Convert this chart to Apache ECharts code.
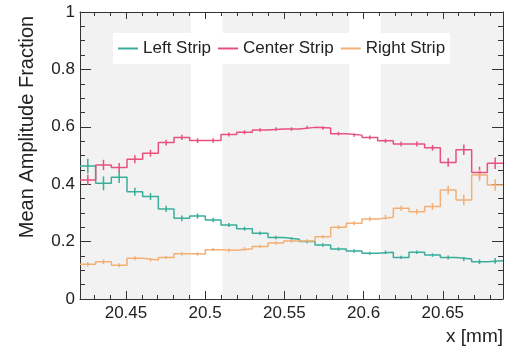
<!DOCTYPE html>
<html>
<head>
<meta charset="utf-8">
<script src="https://cdn.jsdelivr.net/npm/echarts@6/dist/echarts.min.js"></script>
<style>
  html, body { margin: 0; padding: 0; background: #fff; }
  #chart { width: 507px; height: 348px; }
</style>
</head>
<body>
<div id="chart"></div>
<script>
// histogram binning
const xLow = 20.421;
const xHigh = 20.688;
const nBins = 27;

// tick values
const xMajorTicks = [20.45, 20.5, 20.55, 20.6, 20.65];
const xMinorTicks = [20.43, 20.44, 20.46, 20.47, 20.48, 20.49, 20.51, 20.52, 20.53, 20.54,
    20.56, 20.57, 20.58, 20.59, 20.61, 20.62, 20.63, 20.64, 20.66, 20.67, 20.68];

// shaded (gray) x ranges
const shadedBands = [[20.421, 20.491], [20.511, 20.591], [20.611, 20.688]];

const seriesNames = ['Left Strip', 'Center Strip', 'Right Strip'];
const seriesColors = ['#3aae9b', '#e8517d', '#f3b074'];

const leftStrip = [0.463, 0.403, 0.424, 0.374, 0.357, 0.314, 0.281, 0.289, 0.275, 0.258, 0.245, 0.229, 0.214, 0.208,
    0.200, 0.188, 0.174, 0.167, 0.159, 0.163, 0.145, 0.163, 0.153, 0.145, 0.139, 0.130, 0.133];
const centerStrip = [0.415, 0.467, 0.458, 0.487, 0.508, 0.545, 0.563, 0.552, 0.552, 0.573, 0.581, 0.589, 0.592, 0.592,
    0.598, 0.596, 0.576, 0.571, 0.563, 0.551, 0.540, 0.540, 0.527, 0.476, 0.520, 0.441, 0.473];
const rightStrip = [0.121, 0.130, 0.118, 0.142, 0.136, 0.145, 0.158, 0.157, 0.172, 0.170, 0.175, 0.183, 0.195, 0.202,
    0.202, 0.217, 0.250, 0.264, 0.279, 0.285, 0.316, 0.304, 0.322, 0.380, 0.345, 0.432, 0.397];

const leftErr = [0.026, 0.024, 0.020, 0.014, 0.012, 0.011, 0.010, 0.009, 0.008, 0.007, 0.007, 0.006, 0.006, 0.006,
    0.006, 0.006, 0.006, 0.006, 0.006, 0.006, 0.006, 0.006, 0.006, 0.007, 0.007, 0.008, 0.010];
const centerErr = [0.018, 0.018, 0.016, 0.014, 0.012, 0.010, 0.009, 0.008, 0.008, 0.007, 0.007, 0.006, 0.006, 0.006,
    0.006, 0.006, 0.006, 0.006, 0.007, 0.007, 0.008, 0.009, 0.010, 0.015, 0.018, 0.020, 0.020];
const rightErr = [0.008, 0.008, 0.007, 0.007, 0.006, 0.006, 0.006, 0.006, 0.006, 0.006, 0.006, 0.006, 0.006, 0.006,
    0.006, 0.006, 0.007, 0.007, 0.008, 0.008, 0.009, 0.010, 0.012, 0.015, 0.018, 0.020, 0.020];

const FONT = '"Liberation Sans", Arial, sans-serif';
const binWidth = (xHigh - xLow) / nBins;

function stepPoints(values) {
    const pts = [];
    values.forEach((v, i) => {
        pts.push([xLow + i * binWidth, v]);
        pts.push([xLow + (i + 1) * binWidth, v]);
    });
    return pts;
}

function errPoints(values, errs) {
    return values.map((v, i) => [xLow + (i + 0.5) * binWidth, v, errs[i]]);
}

function errorBarSeries(values, errs, color) {
    return {
        type: 'custom',
        silent: true,
        z: 3,
        data: errPoints(values, errs),
        renderItem: function (params, api) {
            const x = api.value(0), y = api.value(1), e = api.value(2);
            const p1 = api.coord([x, y - e]);
            const p2 = api.coord([x, y + e]);
            return {
                type: 'line',
                shape: { x1: p1[0], y1: p1[1], x2: p2[0], y2: p2[1] },
                style: { stroke: color, lineWidth: 1.5 }
            };
        }
    };
}

const chart = echarts.init(document.getElementById('chart'));

const axisLine = { show: true, lineStyle: { color: '#333', width: 1 } };

function xAxisDef(position, ticks, len, labels, line) {
    return {
        type: 'value',
        position: position,
        min: xLow,
        max: xHigh,
        axisLine: line ? axisLine : { show: false },
        splitLine: { show: false },
        axisTick: {
            show: true, inside: true, length: len, customValues: ticks,
            lineStyle: { color: '#333', width: 1 }
        },
        axisLabel: labels ? {
            show: true, customValues: ticks, margin: 6,
            fontFamily: FONT, fontSize: 17, color: '#222',
            formatter: v => String(+v.toFixed(2))
        } : { show: false }
    };
}

function yAxisDef(position, labels) {
    return {
        type: 'value',
        position: position,
        min: 0,
        max: 1,
        interval: 0.2,
        axisLine: axisLine,
        splitLine: { show: false },
        axisTick: { show: true, inside: true, length: 11, lineStyle: { color: '#333' } },
        minorTick: { show: true, splitNumber: 4, length: 5, lineStyle: { color: '#333' } },
        axisLabel: labels ? {
            show: true, margin: 5, fontFamily: FONT, fontSize: 17, color: '#222',
            formatter: v => String(+v.toFixed(1))
        } : { show: false }
    };
}

const series = [
    {
        type: 'custom',
        silent: true,
        z: 0,
        data: shadedBands,
        renderItem: function (params, api) {
            const a = api.coord([api.value(0), 1]);
            const b = api.coord([api.value(1), 0]);
            return {
                type: 'rect',
                shape: { x: a[0], y: a[1], width: b[0] - a[0], height: b[1] - a[1] },
                style: { fill: '#f2f2f2' }
            };
        }
    }
];

[leftStrip, centerStrip, rightStrip].forEach((vals, k) => {
    series.push({
        name: seriesNames[k],
        type: 'line',
        data: stepPoints(vals),
        showSymbol: false,
        symbol: 'none',
        z: 4,
        color: seriesColors[k],
        lineStyle: { color: seriesColors[k], width: 1.5 }
    });
});
series.push(errorBarSeries(leftStrip, leftErr, seriesColors[0]));
series.push(errorBarSeries(centerStrip, centerErr, seriesColors[1]));
series.push(errorBarSeries(rightStrip, rightErr, seriesColors[2]));

const option = {
    animation: false,
    backgroundColor: '#fff',
    grid: { left: 80, right: 4, top: 12, bottom: 49, containLabel: false },
    legend: {
        data: seriesNames,
        left: 113,
        top: 33,
        backgroundColor: '#fff',
        padding: [7, 5],
        itemGap: 7,
        itemWidth: 20,
        itemHeight: 2,
        icon: 'rect',
        textStyle: { fontFamily: FONT, fontSize: 17, color: '#222' }
    },
    xAxis: [
        xAxisDef('bottom', xMajorTicks, 8, true, true),
        xAxisDef('bottom', xMinorTicks, 4, false, false),
        xAxisDef('top', xMajorTicks, 7, false, true),
        xAxisDef('top', xMinorTicks, 4, false, false)
    ],
    yAxis: [yAxisDef('left', true), yAxisDef('right', false)],
    graphic: [
        {
            type: 'text',
            x: 27, y: 127,
            rotation: Math.PI / 2,
            style: {
                text: 'Mean Amplitude Fraction',
                fontFamily: FONT, fontSize: 20, fill: '#222',
                textAlign: 'center', textVerticalAlign: 'middle'
            }
        },
        {
            type: 'text',
            x: 503, y: 337,
            style: {
                text: 'x [mm]',
                fontFamily: FONT, fontSize: 19, fill: '#222',
                textAlign: 'right', textVerticalAlign: 'middle'
            }
        }
    ],
    series: series
};

chart.setOption(option);
</script>
</body>
</html>
